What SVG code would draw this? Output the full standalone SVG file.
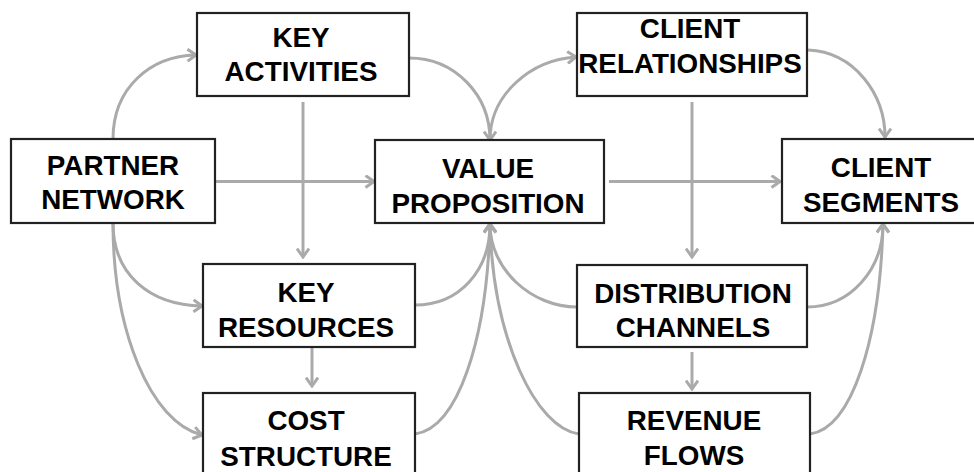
<svg xmlns="http://www.w3.org/2000/svg" width="974" height="472" viewBox="0 0 974 472">
<style>
.box{fill:#fff;stroke:#222;stroke-width:2.2}
.t{font-family:"Liberation Sans",Arial,sans-serif;font-weight:bold;font-size:27.8px;fill:#000;text-anchor:middle}
.c{fill:none;stroke:#aaaaaa;stroke-width:3;marker-end:url(#ah)}
</style>
<defs>
<marker id="ah" viewBox="0 0 12 14" refX="10.5" refY="7" markerWidth="12" markerHeight="14" markerUnits="userSpaceOnUse" orient="auto">
<path d="M2,1 L10.5,7 L2,13" fill="none" stroke="#aaaaaa" stroke-width="3" stroke-linejoin="miter"/>
</marker>
</defs>
<rect width="974" height="472" fill="#fff"/>
<g id="connectors">
<path class="c" d="M113,139 C113,88 150,56 196,55"/>
<path class="c" d="M216,181.5 L374,181.5"/>
<path class="c" d="M113,223 C113,275 150,305 202,306"/>
<path class="c" d="M113,223 C113,330 150,422 202,435"/>
<path class="c" d="M409,58 C455,58 490,95 490,140"/>
<path class="c" d="M303,102 L303,257"/>
<path class="c" d="M490,140 C490,95 530,60 576,57"/>
<path class="c" d="M808,50 C855,52 885,95 885,137"/>
<path class="c" d="M609,181.5 L780,181.5"/>
<path class="c" d="M692,102 L692,257"/>
<path class="c" d="M415,305 C460,305 490,270 490,224"/>
<path class="c" d="M415,434 C458,428 487,340 490,224"/>
<path class="c" d="M577,307 C532,307 490,270 490,224"/>
<path class="c" d="M579,434 C536,428 493,340 490,224"/>
<path class="c" d="M807,307 C850,307 883,270 883,224"/>
<path class="c" d="M810,434 C852,428 880,340 883,224"/>
<path class="c" d="M312,348 L312,386"/>
<path class="c" d="M692,352 L692,389"/>
</g>
<g id="key-activities">
<rect class="box" x="197" y="13" width="212" height="83"/>
<text class="t" x="301" y="47">KEY</text>
<text class="t" x="301" y="81">ACTIVITIES</text>
</g>
<g id="partner-network">
<rect class="box" x="11" y="139" width="204" height="84"/>
<text class="t" x="113" y="175">PARTNER</text>
<text class="t" x="113" y="209">NETWORK</text>
</g>
<g id="value-proposition">
<rect class="box" x="375" y="140" width="229" height="83"/>
<text class="t" x="488" y="178">VALUE</text>
<text class="t" x="488" y="213">PROPOSITION</text>
</g>
<g id="client-relationships">
<rect class="box" x="577" y="13" width="230" height="83"/>
<text class="t" x="690" y="38">CLIENT</text>
<text class="t" x="690" y="73">RELATIONSHIPS</text>
</g>
<g id="client-segments">
<rect class="box" x="782" y="139" width="200" height="84"/>
<text class="t" x="881" y="177">CLIENT</text>
<text class="t" x="881" y="212">SEGMENTS</text>
</g>
<g id="key-resources">
<rect class="box" x="203" y="264" width="212" height="83"/>
<text class="t" x="306" y="302">KEY</text>
<text class="t" x="306" y="337">RESOURCES</text>
</g>
<g id="cost-structure">
<rect class="box" x="203" y="393" width="212" height="90"/>
<text class="t" x="306" y="430">COST</text>
<text class="t" x="306" y="466">STRUCTURE</text>
</g>
<g id="distribution-channels">
<rect class="box" x="577" y="265" width="230" height="82"/>
<text class="t" x="693" y="303">DISTRIBUTION</text>
<text class="t" x="693" y="337">CHANNELS</text>
</g>
<g id="revenue-flows">
<rect class="box" x="579" y="393" width="231" height="90"/>
<text class="t" x="694" y="430">REVENUE</text>
<text class="t" x="694" y="465">FLOWS</text>
</g>
</svg>
